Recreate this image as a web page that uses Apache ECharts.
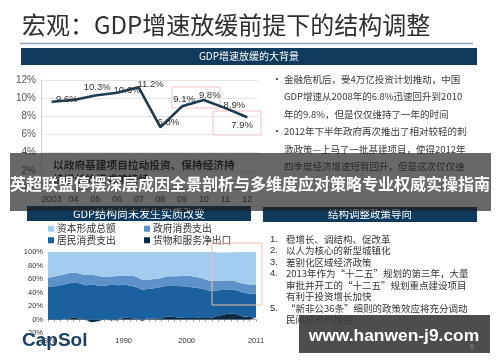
<!DOCTYPE html>
<html><head><meta charset="utf-8">
<script src="https://cdn.jsdelivr.net/npm/echarts@6/dist/echarts.min.js"></script>
<style>html,body{margin:0;padding:0;background:#fff}#c{width:500px;height:362px}</style>
</head><body><div id="c"></div>
<script>
// ---- data ----
const gdpYears = ['2003','04','05','06','07','08','09','10','11','12'];
const gdpGrowth = [9.6, 9.8, 10.3, 10.6, 11.2, 6.8, 9.1, 9.8, 8.9, 7.9];
const gdpLabels = ['9.6%', '', '10.3%', '10.6%', '11.2%', '6.8%', '9.1%', '9.8%', '8.9%', '7.9%'];

const structYears = ['1978','1979','1980','1981','1982','1983','1984','1985','1986','1987','1988','1989','1990','1991','1992','1993','1994','1995','1996','1997','1998','1999','2000','2001','2002','2003','2004','2005','2006','2007','2008','2009','2010','2011'];
const structTickYears = ['1978','1990','2000','2011'];
const netExports = [-0.3,-0.6,-0.6,0.6,2.6,1.3,0.0,-4.1,-2.3,0.1,-1.1,-1.2,2.6,2.4,1.0,-1.8,1.3,1.6,1.7,4.3,3.6,2.6,2.4,2.2,2.6,2.2,2.6,5.4,7.5,8.8,7.7,4.3,3.7,2.6];
const householdCons = [48.8,49.1,50.8,52.5,52.0,52.3,50.8,51.6,50.4,49.9,51.1,50.9,48.8,47.5,47.2,44.4,43.8,45.0,46.3,45.8,45.9,46.6,46.4,45.2,43.7,41.7,39.8,38.1,36.3,36.0,35.1,35.4,34.9,35.7];
const govCons = [13.3,14.7,14.7,14.6,14.5,14.4,15.0,14.3,14.2,13.5,12.6,13.6,13.6,14.9,15.2,14.9,14.3,13.3,13.6,13.8,14.6,15.3,15.9,16.2,15.9,15.2,14.5,14.1,13.8,13.4,13.2,13.1,13.2,13.4];
const capitalForm = [38.2,36.1,34.8,32.5,31.9,32.8,34.2,38.1,37.5,36.3,37.0,36.6,34.9,35.3,36.6,42.6,40.5,40.3,38.8,36.7,36.2,36.2,35.3,36.5,37.9,41.0,43.0,41.5,41.7,41.6,43.8,47.2,48.1,48.3];

const bullets1 = [
  ['•', '金融危机后，受4万亿投资计划推动，中国'],
  ['',  'GDP增速从2008年的6.8%迅速回升到2010'],
  ['',  '年的9.8%，但是仅仅维持了一年的时间'],
  ['•', '2012年下半年政府再次推出了相对较轻的刺'],
  ['',  '激政策—上马了一批基建项目，使得2012年'],
  ['',  '四季度经济增速短暂回升，但是这次仅仅维']
];
const policyList = [
  ['1.', '稳增长、调结构、促改革'],
  ['2.', '以人为核心的新型城镇化'],
  ['3.', '差别化区域经济政策'],
  ['4.', '2013年作为“十二五”规划的第三年，大量'],
  ['',   '审批并开工的“十二五”规划重点建设项目'],
  ['',   '有利于投资增长加快'],
  ['5.', '“新非公36条”细则的政策效应将充分调动'],
  ['',   '民间投资积极性']
];

// ---- layout (not data) ----
const labelOffsets = [[15,-2],[0,0],[2,-8],[10,-2],[12,-3],[8,-5],[2,-7],[6,-5],[9,-3],[-5,8]];
const CJK = '"Noto Sans CJK SC", "Liberation Sans", sans-serif';
const LAT = '"Liberation Sans", Arial, sans-serif';

const chart = echarts.init(document.getElementById('c'), null, {renderer: 'canvas'});

const lineData = gdpGrowth.map((v, i) => ({
  value: v,
  label: {show: gdpLabels[i] !== '', formatter: gdpLabels[i], offset: labelOffsets[i]}
}));

const graphics = [];
// title
graphics.push({type:'text', left:22, top:13, style:{text:'宏观：GDP增速放缓前提下的结构调整', font:'24px ' + CJK, fill:'#2e2e2e'}});
graphics.push({type:'line', shape:{x1:20, y1:43.5, x2:473, y2:43.5}, style:{stroke:'#8ea2b4', lineWidth:1.5}});
// navy bars
function navyBar(x, y, w, h, txt, fs) {
  graphics.push({type:'rect', shape:{x:x, y:y, width:w, height:h}, style:{fill:'#0f3a5b'}});
  graphics.push({type:'text', style:{x:x + w/2, y:y + h/2, text:txt, textAlign:'center', textVerticalAlign:'middle', font:fs + 'px ' + CJK, fill:'#fff'}});
}
navyBar(21, 48, 456, 17, 'GDP增速放缓的大背景', 10);
navyBar(27, 206, 224, 15, 'GDP结构尚未发生实质改变', 11);
navyBar(263, 207, 214, 15, '结构调整政策导向', 10.5);
// pink annotation boxes
graphics.push({type:'rect', shape:{x:172, y:87, width:48, height:21}, style:{fill:'none', stroke:'#f0c2c2', lineWidth:1}});
graphics.push({type:'rect', shape:{x:213, y:111, width:48, height:24}, style:{fill:'none', stroke:'#f0c2c2', lineWidth:1}});
graphics.push({type:'rect', shape:{x:212, y:243, width:50, height:62}, z:20, style:{fill:'none', stroke:'#f2c0ac', lineWidth:1}});
// upper right text
bullets1.forEach((r, i) => {
  const y = 79 + i * 17.5;
  if (r[0]) graphics.push({type:'text', style:{x:272, y:y, text:r[0], textVerticalAlign:'middle', font:'10px ' + CJK, fill:'#444'}});
  graphics.push({type:'text', style:{x:284, y:y, text:r[1], textVerticalAlign:'middle', font:'9.5px ' + CJK, fill:'#3a3a3a'}});
});
// boxed statement in line chart (under overlay)
graphics.push({type:'text', style:{x:53, y:165, text:'以政府基建项目拉动投资、保持经济持', textVerticalAlign:'middle', font:'bold 10.7px ' + CJK, fill:'#222'}});
graphics.push({type:'text', style:{x:53, y:179, text:'续增长的模式难持续', textVerticalAlign:'middle', font:'bold 10.7px ' + CJK, fill:'#222'}});
// lower right list
policyList.forEach((r, i) => {
  const y = 239 + i * 11.5;
  if (r[0]) graphics.push({type:'text', style:{x:270, y:y, text:r[0], textVerticalAlign:'middle', font:'9.5px ' + LAT, fill:'#333'}});
  graphics.push({type:'text', style:{x:286, y:y, text:r[1], textVerticalAlign:'middle', font:'9.5px ' + CJK, fill:'#333'}});
});
// CapSol
graphics.push({type:'text', z:30, style:{x:22, y:341, text:'CapSol', textVerticalAlign:'middle', font:'bold 19px ' + LAT, fill:'#1c3f62'}});
// overlay band
graphics.push({type:'rect', z:100, shape:{x:10, y:153, width:481, height:58}, style:{fill:'rgba(32,32,32,0.68)'}});
graphics.push({type:'text', z:101, style:{x:250, y:184, text:'英超联盟停摆深层成因全景剖析与多维度应对策略专业权威实操指南', textAlign:'center', textVerticalAlign:'middle', font:'bold 16px ' + CJK, fill:'#fff'}});
// watermark
graphics.push({type:'rect', z:100, shape:{x:299, y:315, width:191, height:38}, style:{fill:'rgba(62,62,62,0.92)'}});
graphics.push({type:'text', z:101, style:{x:394, y:336, text:'www.hanwen-j9.com', textAlign:'center', textVerticalAlign:'middle', font:'bold 17.4px ' + LAT, fill:'#fff'}});
graphics.push({type:'text', z:101, style:{x:472, y:347, text:'6', textAlign:'center', textVerticalAlign:'middle', font:'7px ' + LAT, fill:'#8a8a8a'}});

function areaSeries(name, data, color) {
  return {
    name: name, type:'line', xAxisIndex:1, yAxisIndex:1, stack:'gdp', data:data,
    symbol:'none', smooth:0.35, lineStyle:{width:0}, areaStyle:{color:color, opacity:1},
    itemStyle:{color:color}, emphasis:{disabled:true}
  };
}

chart.setOption({
  animation:false,
  textStyle:{fontFamily: CJK},
  grid:[
    {left:41, right:242, top:80, bottom:173},
    {left:48, right:244, top:252, bottom:29}
  ],
  legend:[
    {data:['资本形成总额','居民消费支出'], orient:'vertical', left:48, top:223, itemWidth:6, itemHeight:6, itemGap:0, icon:'rect',
     textStyle:{fontSize:9.8, lineHeight:11.5, color:'#333', fontFamily:CJK, padding:[0,0,0,-2]}, selectedMode:false, padding:0},
    {data:['政府消费支出','货物和服务净出口'], orient:'vertical', left:144, top:223, itemWidth:6, itemHeight:6, itemGap:0, icon:'rect',
     textStyle:{fontSize:9.8, lineHeight:11.5, color:'#333', fontFamily:CJK, padding:[0,0,0,-2]}, selectedMode:false, padding:0}
  ],
  xAxis:[
    {type:'category', gridIndex:0, data:gdpYears, boundaryGap:true,
     axisLine:{show:true, lineStyle:{color:'#bbb'}}, axisTick:{show:false},
     axisLabel:{interval:0, fontSize:9, color:'#444', margin:6, fontFamily:LAT}},
    {type:'category', gridIndex:1, data:structYears, boundaryGap:false,
     axisLine:{show:true, onZero:true, lineStyle:{color:'#777', width:0.6}},
     axisTick:{show:true, interval:0, length:2, lineStyle:{color:'#555', width:0.6}},
     axisLabel:{fontSize:7.5, color:'#333', margin:4, fontFamily:LAT,
       interval:(i, v) => structTickYears.indexOf(v) >= 0}}
  ],
  yAxis:[
    {type:'value', gridIndex:0, min:0, max:12, interval:2,
     axisLine:{show:true, lineStyle:{color:'#d0d0d0'}}, axisTick:{show:false},
     splitLine:{lineStyle:{color:'#e3e3e3'}},
     axisLabel:{formatter:'{value}%', fontSize:10, color:'#555', margin:5, fontFamily:LAT}},
    {type:'value', gridIndex:1, min:-20, max:100, interval:20,
     axisLine:{show:false}, axisTick:{show:false}, splitLine:{show:false},
     axisLabel:{formatter:'{value}%', fontSize:7.5, color:'#333', margin:5, fontFamily:LAT}}
  ],
  series:[
    {name:'GDP增速', type:'line', xAxisIndex:0, yAxisIndex:0, data:lineData,
     symbol:'circle', symbolSize:1, showSymbol:true,
     lineStyle:{color:'#1c3a50', width:2.6}, itemStyle:{color:'#1c3a50'},
     label:{position:'inside', fontSize:9.5, color:'#333', fontFamily:LAT}, emphasis:{disabled:true}},
    areaSeries('货物和服务净出口', netExports, '#0d2a44'),
    areaSeries('居民消费支出', householdCons, '#1b609f'),
    areaSeries('政府消费支出', govCons, '#5c92c7'),
    areaSeries('资本形成总额', capitalForm, '#a2cdf0')
  ],
  graphic: graphics
});
</script>
</body></html>
